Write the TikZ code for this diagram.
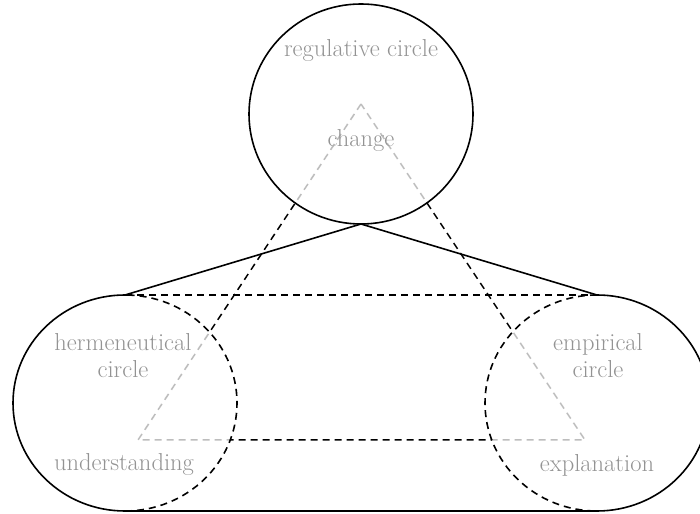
\documentclass[tikz,border=0pt]{standalone}
\usepackage{xcolor}
\usepackage{tikz}
\usetikzlibrary{calc}
\definecolor{label}{HTML}{939393}
\definecolor{faint}{HTML}{BDBDBD}

\begin{document}
\begin{tikzpicture}[x=1pt, y=1pt,
  rim/.style={line width=1.6pt},
  hidden/.style={rim, dash pattern=on 7pt off 5pt},
  tri/.style={line width=1.5pt, dash pattern=on 7pt off 5pt},
  tag/.style={text=label, font=\fontsize{24.5}{27}\selectfont, align=center}
]
  \useasboundingbox (0,0) rectangle (700,513);
  % centres, tangent points and triangle corners
  \coordinate (top) at (361,399);
  \coordinate (left) at (125,110);
  \coordinate (right) at (597,110);
  \coordinate (knot) at (361,289);
  \coordinate (lt) at (125,218); \coordinate (lb) at (125,2);
  \coordinate (rt) at (597,218); \coordinate (rb) at (597,2);
  \coordinate (apex) at (361,409);
  \coordinate (base l) at (138,73);
  \coordinate (base r) at (585,73);

  % triangle: black outside the circles, grey inside
  \draw[tri] (apex) -- (base l) -- (base r) -- cycle;
  \foreach \c/\ry in {top/110, left/108, right/108} {
    \begin{scope}
      \clip (\c) ellipse [x radius=112, y radius=\ry];
      \draw[line width=2.8pt, white] (apex) -- (base l) -- (base r) -- cycle;
      \draw[tri, faint] (apex) -- (base l) -- (base r) -- cycle;
    \end{scope}
  }

  % regulative circle and its two ties
  \draw[rim] (top) ellipse [x radius=112, y radius=110];
  \draw[rim] (knot) -- (lt);
  \draw[rim] (knot) -- (rt);

  % the band below
  \draw[hidden] (lt) -- (rt);
  \draw[rim] (lb) -- (rb);
  \draw[rim] (lt) arc[start angle=90, end angle=270, x radius=112, y radius=108];
  \draw[hidden] (lb) arc[start angle=-90, end angle=90, x radius=112, y radius=108];
  \draw[rim] (rb) arc[start angle=-90, end angle=90, x radius=112, y radius=108];
  \draw[hidden] (rt) arc[start angle=90, end angle=270, x radius=112, y radius=108];

  % labels
  \node[tag, anchor=base] (reg) at (361,456) {regulative circle};
  \node[tag, anchor=base] (change) at (361,366) {change};
  \node[tag] (herm) at (123,157) {hermeneutical\\circle};
  \node[tag, anchor=base] (under) at (124,42) {understanding};
  \node[tag] (emp) at (598,157) {empirical\\circle};
  \node[tag, anchor=base] (expl) at (597,41) {explanation};
\end{tikzpicture}
\end{document}
